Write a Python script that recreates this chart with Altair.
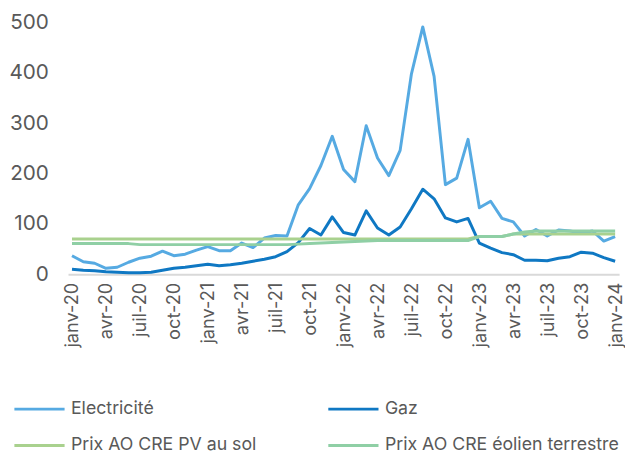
import altair as alt
import pandas as pd

month_names = ["janv", "févr", "mars", "avr", "mai", "juin", "juil", "août", "sept", "oct", "nov", "déc"]
months = [f"{month_names[i % 12]}-{20 + i // 12}" for i in range(49)]
shown_labels = months[::3]

electricite = [37, 25, 22, 12, 14, 24, 32, 36, 46, 37, 40, 48, 55, 47, 47, 62, 53, 72, 77, 76, 138, 170, 216, 274, 208, 184, 295, 231, 196, 246, 398, 491, 393, 178, 191, 268, 132, 145, 111, 104, 76, 89, 76, 88, 86, 82, 86, 66, 75]
gaz = [10, 8, 7, 5, 4, 3, 3, 4, 8, 12, 14, 17, 20, 17, 19, 22, 26, 30, 35, 45, 63, 91, 78, 114, 83, 78, 126, 92, 78, 94, 130, 169, 150, 112, 104, 111, 62, 52, 43, 39, 28, 28, 27, 32, 35, 44, 42, 33, 26]
pv_sol = [70] * 36 + [75, 75, 75] + [80] * 10
eolien = [61] * 6 + [59] * 14 + [60, 61, 62, 63, 64, 65, 66] + [67] * 9 + [75, 75, 75, 80, 84] + [86] * 8

series_names = ["Electricité", "Gaz", "Prix AO CRE PV au sol", "Prix AO CRE éolien terrestre"]
series_values = [electricite, gaz, pv_sol, eolien]
series_colors = ["#56aae2", "#0f78c3", "#a9d18e", "#8fcfa5"]

rows = []
for name, vals in zip(series_names, series_values):
    for m, v in zip(months, vals):
        rows.append({"mois": m, "valeur": v, "serie": name})
df = pd.DataFrame(rows)

chart = alt.Chart(df).mark_line(strokeWidth=3, strokeJoin="round").encode(
    x=alt.X("mois:O", sort=months,
            scale=alt.Scale(type="point", padding=0.35),
            axis=alt.Axis(values=shown_labels, labelAngle=-90, labelFontSize=18.5,
                          labelColor="#595959", labelFont="Inter", ticks=False,
                          domainColor="#d9d9d9", domainWidth=2, labelPadding=8,
                          title=None, grid=False)),
    y=alt.Y("valeur:Q", scale=alt.Scale(domain=[0, 500]),
            axis=alt.Axis(values=[0, 100, 200, 300, 400, 500], grid=False, domain=False,
                          ticks=False, labelFontSize=21, labelColor="#595959",
                          labelFont="Inter", labelPadding=20, minExtent=57,
                          maxExtent=57, title=None)),
    color=alt.Color("serie:N",
                    scale=alt.Scale(domain=series_names, range=series_colors),
                    legend=alt.Legend(orient="none", legendX=-56, legendY=383,
                                      columns=2, direction="horizontal",
                                      symbolType="M-1,0H5", symbolSize=289,
                                      symbolStrokeWidth=3, labelOffset=39,
                                      labelFontSize=18, labelFont="Inter",
                                      labelColor="#595959", labelLimit=400,
                                      columnPadding=66, rowPadding=18, title=None)),
    detail="serie:N",
).properties(
    width=560, height=256,
    padding={"left": 0, "top": 0, "right": 0, "bottom": 0},
).configure_view(stroke=None)

chart.save("out.html", embed_options={"renderer": "svg", "actions": False})
